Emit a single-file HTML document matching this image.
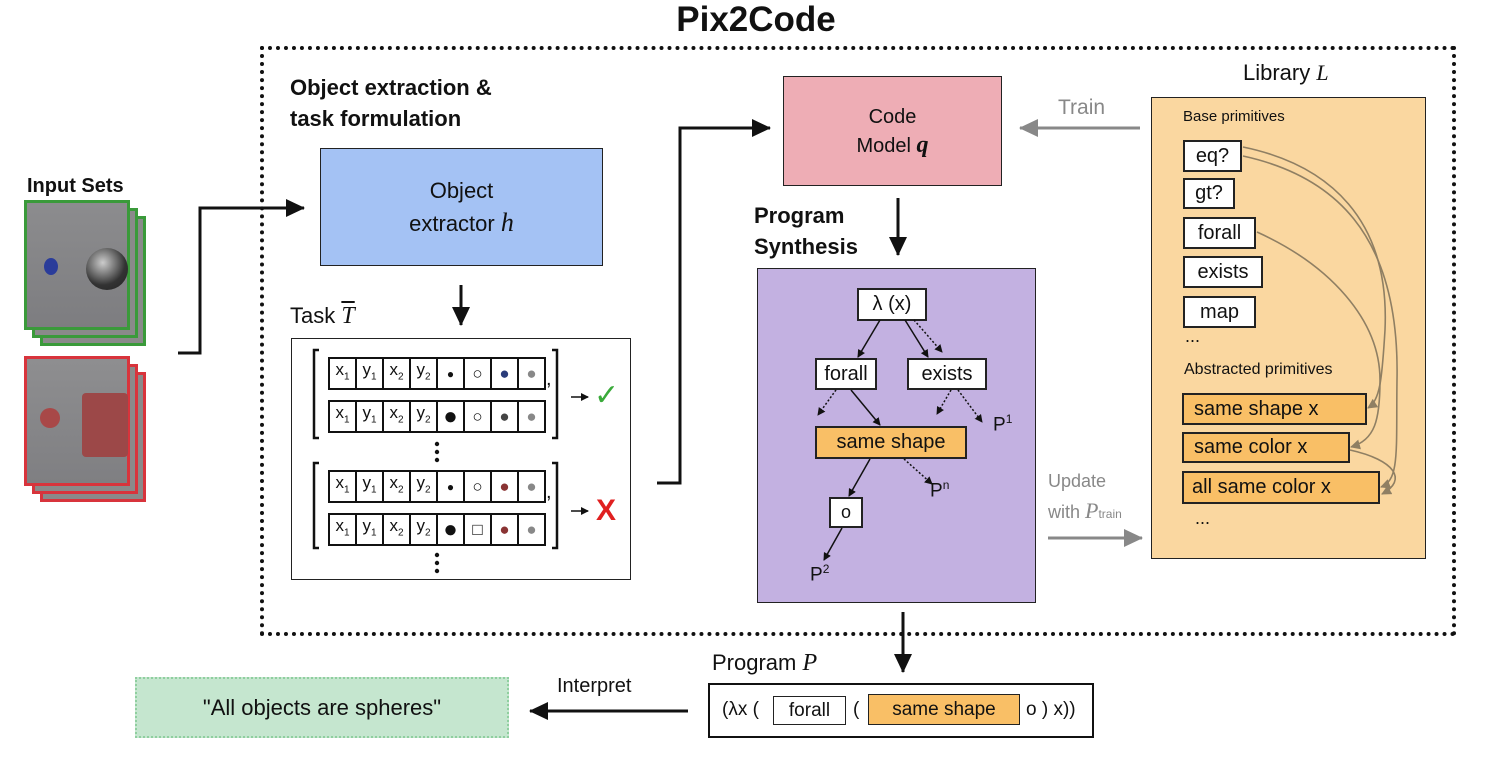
<!DOCTYPE html>
<html><head><meta charset="utf-8"><style>
body{margin:0;width:1488px;height:762px;background:#fff;position:relative;overflow:hidden;font-family:"Liberation Sans","DejaVu Sans",sans-serif;color:#111}
.a{position:absolute}
.bx{position:absolute;box-sizing:border-box;border:2px solid #222;background:#fff;display:flex;align-items:center;justify-content:center;font-size:20px}
.o{background:#f9bf66}
.b{font-weight:bold}
table.r{position:absolute;border-collapse:collapse;border:2.5px solid #111;background:#fff}
table.r td{border:2px solid #111;width:25px;height:24px;padding:0;text-align:center;font-size:17px;line-height:22px}
sub{font-size:10px}
i.m{font-family:"Liberation Serif",serif;font-style:italic}
</style></head><body>
<div class="a b" style="left:0;width:1488px;top:0px;text-align:center;font-size:35px;padding-left:12px">Pix2Code</div>
<div class="a" style="left:260px;top:46px;width:1188px;height:582px;border:4px dotted #111"></div>
<div class="a b" style="left:290px;top:72px;font-size:22px;line-height:31px">Object extraction &amp;<br>task formulation</div>
<div class="bx" style="left:320px;top:148px;width:283px;height:118px;background:#a4c2f4;border-width:1.5px;flex-direction:column;font-size:22px;line-height:32px"><div>Object</div><div>extractor <i class="m" style="font-size:26px">h</i></div></div>
<div class="a b" style="left:27px;top:175px;font-size:20px">Input Sets</div>
<div class="a" style="left:40px;top:216px;width:100px;height:124px;background:#8a8a8a;border:3px solid #3a9a3a"></div>
<div class="a" style="left:32px;top:208px;width:100px;height:124px;background:#8a8a8a;border:3px solid #3a9a3a"></div>
<div class="a" style="left:24px;top:200px;width:100px;height:124px;background:linear-gradient(#8c8c8e,#7d7d80);border:3px solid #3a9a3a"></div>
<div class="a" style="left:44px;top:258px;width:14px;height:17px;border-radius:50%;background:#2a3c9a"></div>
<div class="a" style="left:86px;top:248px;width:42px;height:42px;border-radius:50%;background:radial-gradient(circle at 40% 35%,#ccc,#333 60%,#222)"></div>
<div class="a" style="left:40px;top:372px;width:100px;height:124px;background:#8a8a8a;border:3px solid #d8343c"></div>
<div class="a" style="left:32px;top:364px;width:100px;height:124px;background:#8a8a8a;border:3px solid #d8343c"></div>
<div class="a" style="left:24px;top:356px;width:100px;height:124px;background:linear-gradient(#8e8e90,#7f7f82);border:3px solid #d8343c"></div>
<div class="a" style="left:40px;top:408px;width:20px;height:20px;border-radius:50%;background:#a84848"></div>
<div class="a" style="left:82px;top:393px;width:46px;height:64px;background:#9c4848;border-radius:4px"></div>

<div class="a" style="left:290px;top:303px;font-size:22px">Task <i class="m" style="text-decoration:overline;font-size:24px">T</i></div>
<div class="a" style="left:291px;top:338px;width:340px;height:242px;border:1.5px solid #222;box-sizing:border-box"></div>
<table class="r" style="left:328px;top:357px"><tr><td>x<sub>1</sub></td><td>y<sub>1</sub></td><td>x<sub>2</sub></td><td>y<sub>2</sub></td><td style="font-size:12px">●</td><td>○</td><td style="color:#2a3c7a">●</td><td style="color:#888">●</td></tr></table>
<table class="r" style="left:328px;top:400px"><tr><td>x<sub>1</sub></td><td>y<sub>1</sub></td><td>x<sub>2</sub></td><td>y<sub>2</sub></td><td style="font-size:24px">●</td><td>○</td><td style="color:#444">●</td><td style="color:#888">●</td></tr></table>
<table class="r" style="left:328px;top:470px"><tr><td>x<sub>1</sub></td><td>y<sub>1</sub></td><td>x<sub>2</sub></td><td>y<sub>2</sub></td><td style="font-size:12px">●</td><td>○</td><td style="color:#8a3434">●</td><td style="color:#888">●</td></tr></table>
<table class="r" style="left:328px;top:513px"><tr><td>x<sub>1</sub></td><td>y<sub>1</sub></td><td>x<sub>2</sub></td><td>y<sub>2</sub></td><td style="font-size:24px">●</td><td>□</td><td style="color:#8a3434">●</td><td style="color:#888">●</td></tr></table>
<div class="a" style="left:546px;top:368px;font-size:20px">,</div>
<div class="a" style="left:546px;top:481px;font-size:20px">,</div>
<div class="a" style="left:594px;top:378px;font-size:30px;color:#3aaa3a;font-weight:bold">✓</div>
<div class="a" style="left:596px;top:494px;font-size:30px;color:#e02020;font-weight:bold">X</div>

<div class="bx" style="left:783px;top:76px;width:219px;height:110px;background:#eeadb5;border-width:1.5px;flex-direction:column;font-size:20px;line-height:28px"><div>Code</div><div>Model <i class="m b" style="font-size:24px">q</i></div></div>
<div class="a" style="left:1058px;top:96px;font-size:21px;color:#888">Train</div>
<div class="a b" style="left:754px;top:200px;font-size:22px;line-height:31px">Program<br>Synthesis</div>
<div class="a" style="left:757px;top:268px;width:279px;height:335px;background:#c3b1e1;border:1.5px solid #222;box-sizing:border-box"></div>
<div class="bx" style="left:857px;top:288px;width:70px;height:33px">λ (x)</div>
<div class="bx" style="left:815px;top:358px;width:62px;height:32px">forall</div>
<div class="bx" style="left:907px;top:358px;width:80px;height:32px">exists</div>
<div class="bx o" style="left:815px;top:426px;width:152px;height:33px">same shape</div>
<div class="bx" style="left:829px;top:497px;width:34px;height:31px;font-size:18px">o</div>
<div class="a" style="left:810px;top:562px;font-size:19px">P<sup style="font-size:12px">2</sup></div>
<div class="a" style="left:930px;top:478px;font-size:19px">P<sup style="font-size:12px">n</sup></div>
<div class="a" style="left:993px;top:412px;font-size:19px">P<sup style="font-size:12px">1</sup></div>

<div class="a" style="left:1048px;top:466px;font-size:18px;color:#888;line-height:30px">Update<br>with <i class="m" style="font-size:22px">P</i><span style="font-size:12px">train</span></div>
<div class="a" style="left:1243px;top:60px;font-size:22px">Library <i class="m">L</i></div>
<div class="a" style="left:1151px;top:97px;width:275px;height:462px;background:#fad7a0;border:1.5px solid #222;box-sizing:border-box"></div>
<div class="a" style="left:1183px;top:108px;font-size:15px">Base primitives</div>
<div class="bx" style="left:1183px;top:140px;width:59px;height:32px">eq?</div>
<div class="bx" style="left:1183px;top:178px;width:52px;height:31px">gt?</div>
<div class="bx" style="left:1183px;top:217px;width:73px;height:32px">forall</div>
<div class="bx" style="left:1183px;top:256px;width:80px;height:32px">exists</div>
<div class="bx" style="left:1183px;top:296px;width:73px;height:32px">map</div>
<div class="a" style="left:1185px;top:326px;font-size:18px">...</div>
<div class="a" style="left:1184px;top:361px;font-size:16px">Abstracted primitives</div>
<div class="bx o" style="left:1182px;top:393px;width:185px;height:32px;justify-content:flex-start;padding-left:10px">same shape x</div>
<div class="bx o" style="left:1182px;top:432px;width:168px;height:31px;justify-content:flex-start;padding-left:10px">same color x</div>
<div class="bx o" style="left:1182px;top:471px;width:198px;height:33px;justify-content:flex-start;padding-left:8px">all same color x</div>
<div class="a" style="left:1195px;top:508px;font-size:18px">...</div>

<div class="a" style="left:712px;top:650px;font-size:22px">Program <i class="m" style="font-size:24px">P</i></div>
<div class="a" style="left:708px;top:683px;width:386px;height:55px;border:2.5px solid #111;box-sizing:border-box"></div>
<div class="a" style="left:722px;top:699px;font-size:19px">(λx (</div>
<div class="bx" style="left:773px;top:696px;width:73px;height:29px;border-width:1.5px;font-size:19px">forall</div>
<div class="a" style="left:853px;top:699px;font-size:19px">(</div>
<div class="bx o" style="left:868px;top:694px;width:152px;height:31px;border-width:1.5px;font-size:19px">same shape</div>
<div class="a" style="left:1026px;top:699px;font-size:19px">o ) x))</div>
<div class="a" style="left:557px;top:675px;font-size:20px">Interpret</div>
<div class="a" style="left:135px;top:677px;width:374px;height:61px;background:#c5e6cf;border:2px dotted #8fcf9f;box-sizing:border-box;display:flex;align-items:center;justify-content:center;font-size:22px">"All objects are spheres"</div>

<svg class="a" style="left:0;top:0" width="1488" height="762">
<defs>
<marker id="k" markerWidth="8" markerHeight="8" refX="7" refY="4" orient="auto" markerUnits="userSpaceOnUse"><path d="M0,0L8,4L0,8z" fill="#111"/></marker>
<marker id="K" markerWidth="20" markerHeight="20" refX="18" refY="10" orient="auto" markerUnits="userSpaceOnUse"><path d="M0,1L19,10L0,19z" fill="#111"/></marker>
<marker id="G" markerWidth="20" markerHeight="20" refX="18" refY="10" orient="auto" markerUnits="userSpaceOnUse"><path d="M0,1L19,10L0,19z" fill="#888"/></marker>
<marker id="g" markerWidth="10" markerHeight="10" refX="9" refY="5" orient="auto" markerUnits="userSpaceOnUse"><path d="M0,0L10,5L0,10z" fill="#8f7f63"/></marker>
</defs>
<g fill="none" stroke="#111" stroke-width="3">
<path d="M178,353H200V208H304" marker-end="url(#K)"/>
<path d="M657,483H680V128H770" marker-end="url(#K)"/>
<path d="M461,285V325" marker-end="url(#K)"/>
<path d="M898,198V255" marker-end="url(#K)"/>
<path d="M903,612V672" marker-end="url(#K)"/>
<path d="M688,711H530" marker-end="url(#K)"/>
<path d="M319,350H314V438H319M319,463H314V548H319M552,350H557V438H552M552,463H557V548H552" stroke-width="2.5"/>
</g>
<g fill="none" stroke="#888" stroke-width="3">
<path d="M1140,128H1020" marker-end="url(#G)"/>
<path d="M1048,538H1142" marker-end="url(#G)"/>
</g>
<g fill="#111"><circle cx="437" cy="444" r="2.2"/><circle cx="437" cy="452" r="2.2"/><circle cx="437" cy="460" r="2.2"/>
<circle cx="437" cy="555" r="2.2"/><circle cx="437" cy="563" r="2.2"/><circle cx="437" cy="571" r="2.2"/></g>
<g stroke="#111" stroke-width="1.5" fill="none">
<path d="M571,397H588" marker-end="url(#k)"/>
<path d="M571,511H588" marker-end="url(#k)"/>
<path d="M880,320L858,357" marker-end="url(#k)"/>
<path d="M905,320L928,357" marker-end="url(#k)"/>
<path d="M851,390L880,425" marker-end="url(#k)"/>
<path d="M870,459L849,496" marker-end="url(#k)"/>
<path d="M842,528L824,560" marker-end="url(#k)"/>
<g stroke-dasharray="2,2"><path d="M914,320L942,352" marker-end="url(#k)"/>
<path d="M836,390L818,415" marker-end="url(#k)"/>
<path d="M951,390L937,414" marker-end="url(#k)"/>
<path d="M958,390L982,422" marker-end="url(#k)"/>
<path d="M904,459L932,484" marker-end="url(#k)"/></g>
</g>
<g stroke="#8f7f63" stroke-width="1.6" fill="none">
<path d="M1243,147C1330,165 1390,220 1385,330C1382,380 1380,400 1368,408" marker-end="url(#g)"/>
<path d="M1243,156C1330,175 1400,230 1397,380C1396,450 1400,480 1381,487" marker-end="url(#g)"/>
<path d="M1257,232C1330,265 1380,320 1380,380C1380,420 1375,440 1351,447" marker-end="url(#g)"/>
<path d="M1350,450C1395,460 1408,480 1382,494" marker-end="url(#g)"/>
</g>
</svg>
</body></html>
